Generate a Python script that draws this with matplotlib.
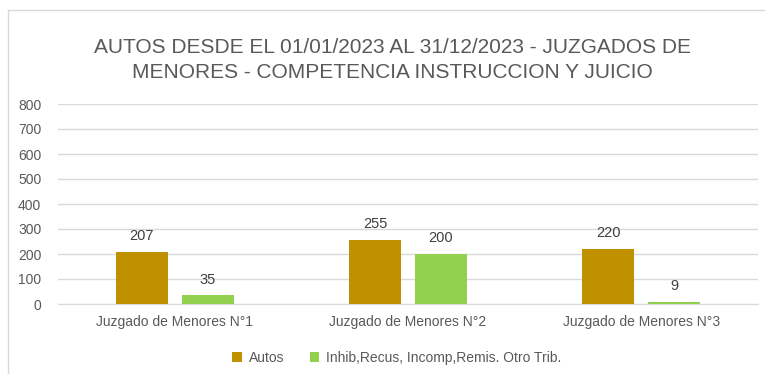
import matplotlib
matplotlib.use("Agg")
import matplotlib.pyplot as plt
from matplotlib.patches import Rectangle
import numpy as np

categories = ["Juzgado de Menores N°1", "Juzgado de Menores N°2", "Juzgado de Menores N°3"]
autos = [207, 255, 220]
inhib = [35, 200, 9]
series_names = ["Autos", "Inhib,Recus, Incomp,Remis. Otro Trib."]
title = "AUTOS DESDE EL 01/01/2023 AL 31/12/2023 - JUZGADOS DE\nMENORES - COMPETENCIA INSTRUCCION Y JUICIO"

gold = "#BF9000"
green = "#92D050"
text_grey = "#595959"

plt.rcParams['font.family'] = ['Liberation Sans', 'DejaVu Sans']

fig = plt.figure(figsize=(7.65, 3.74), dpi=100)
fig.patches.append(Rectangle((8/765, -0.1), 1.2, 1 - 10/374 + 0.1, transform=fig.transFigure,
                             fill=False, edgecolor="#D9D9D9", linewidth=1))
ax = fig.add_axes([58/765, 1 - 304/374, 700/765, 200/374])

x = np.arange(len(categories))
w = 0.223
off = (w + 0.06) / 2
b1 = ax.bar(x - off, autos, w, color=gold, label=series_names[0], zorder=3)
b2 = ax.bar(x + off, inhib, w, color=green, label=series_names[1], zorder=3)
for bars, vals in ((b1, autos), (b2, inhib)):
    for r, v in zip(bars, vals):
        ax.text(r.get_x() + r.get_width()/2, v + 35, str(v), ha="center", va="bottom",
                fontsize=10.5, color="#404040")

ax.set_xlim(-0.5, 2.5)
ax.set_ylim(0, 800)
ax.set_yticks(range(0, 801, 100))
ax.yaxis.grid(True, color="#D9D9D9", linewidth=1, zorder=0)
ax.set_xticks(x)
ax.set_xticklabels(categories)
for s in ax.spines.values():
    s.set_visible(False)
ax.spines["bottom"].set_visible(True)
ax.spines["bottom"].set_color("#D9D9D9")
ax.tick_params(axis="both", length=0, colors=text_grey, labelsize=10)
ax.tick_params(axis="x", pad=8)
ax.tick_params(axis="y", pad=12)

fig.text(0.513, 1 - 60/374, title, ha="center", va="center", fontsize=15, color=text_grey,
         linespacing=1.4)

leg = fig.legend(handles=[b1, b2], labels=series_names, loc="center",
                 bbox_to_anchor=(0.519, 1 - 358/374),
                 ncol=2, frameon=False, handlelength=0.7, handleheight=0.7,
                 handletextpad=0.5, columnspacing=1.8,
                 prop={'size': 10})
for t in leg.get_texts():
    t.set_color(text_grey)

fig.savefig("out.png", dpi=100)
